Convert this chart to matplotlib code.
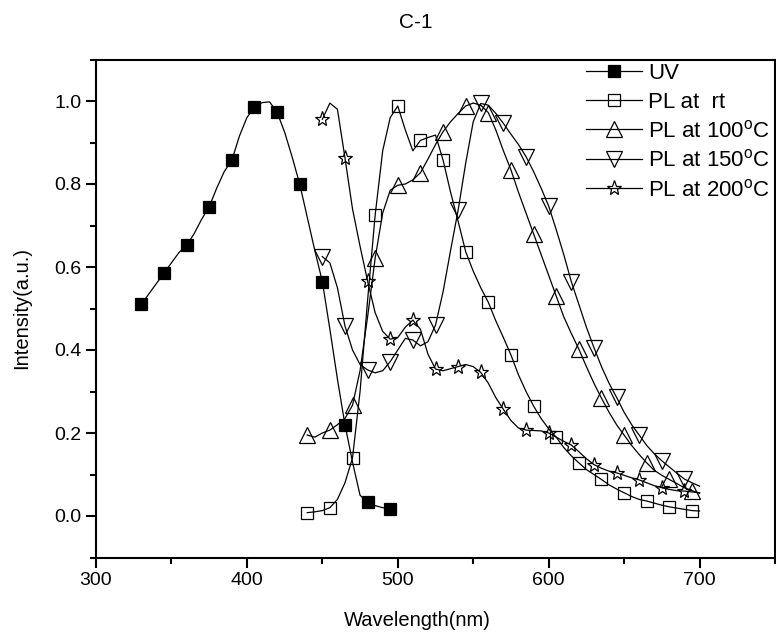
import matplotlib
matplotlib.use("Agg")
import matplotlib.pyplot as plt
from matplotlib.ticker import MultipleLocator

plt.rcParams['font.family'] = ['Liberation Sans', 'DejaVu Sans']
plt.rcParams['mathtext.fontset'] = 'custom'
plt.rcParams['mathtext.rm'] = 'Liberation Sans'

# ---- data ----
uv_x = list(range(330, 500, 5))
uv_y = [0.51, 0.535, 0.56, 0.585, 0.61, 0.635, 0.652, 0.68, 0.715, 0.745, 0.79, 0.83,
        0.857, 0.915, 0.96, 0.985, 0.996, 0.998, 0.973, 0.925, 0.865, 0.80, 0.72, 0.64,
        0.565, 0.45, 0.33, 0.22, 0.13, 0.05, 0.033, 0.025, 0.02, 0.017]

rt_x = list(range(440, 705, 5))
rt_y = [0.008, 0.01, 0.013, 0.02, 0.04, 0.08, 0.14, 0.30, 0.52, 0.725, 0.88, 0.96,
        0.988, 0.93, 0.88, 0.905, 0.912, 0.918, 0.858, 0.78, 0.71, 0.637, 0.59, 0.55,
        0.515, 0.47, 0.43, 0.388, 0.34, 0.30, 0.265, 0.235, 0.21, 0.19, 0.165, 0.145,
        0.128, 0.112, 0.10, 0.088, 0.075, 0.065, 0.056, 0.047, 0.04, 0.036, 0.031,
        0.026, 0.022, 0.019, 0.016, 0.013, 0.012]

t100_x = list(range(440, 705, 5))
t100_y = [0.195, 0.19, 0.2, 0.207, 0.22, 0.235, 0.267, 0.35, 0.48, 0.621, 0.73, 0.785,
          0.797, 0.80, 0.81, 0.827, 0.86, 0.895, 0.926, 0.95, 0.97, 0.988, 0.995, 0.99,
          0.972, 0.93, 0.88, 0.834, 0.78, 0.73, 0.68, 0.63, 0.58, 0.53, 0.48, 0.44,
          0.402, 0.36, 0.32, 0.284, 0.25, 0.22, 0.195, 0.17, 0.148, 0.128, 0.11, 0.098,
          0.088, 0.078, 0.068, 0.061, 0.055]

t150_x = list(range(450, 705, 5))
t150_y = [0.625, 0.61, 0.55, 0.458, 0.40, 0.365, 0.352, 0.345, 0.35, 0.372, 0.40, 0.428,
          0.424, 0.41, 0.42, 0.46, 0.54, 0.64, 0.737, 0.85, 0.95, 0.994, 0.99, 0.97,
          0.946, 0.92, 0.895, 0.866, 0.83, 0.79, 0.747, 0.69, 0.63, 0.565, 0.51, 0.455,
          0.406, 0.36, 0.32, 0.286, 0.25, 0.22, 0.195, 0.17, 0.15, 0.133, 0.118, 0.103,
          0.089, 0.08, 0.072]

t200_x = list(range(450, 705, 5))
t200_y = [0.956, 0.995, 0.98, 0.863, 0.74, 0.65, 0.566, 0.49, 0.445, 0.426, 0.43, 0.455,
          0.472, 0.45, 0.39, 0.354, 0.35, 0.355, 0.36, 0.365, 0.36, 0.346, 0.32, 0.285,
          0.257, 0.23, 0.212, 0.207, 0.206, 0.205, 0.2, 0.19, 0.18, 0.171, 0.155, 0.138,
          0.124, 0.115, 0.108, 0.104, 0.098, 0.092, 0.087, 0.08, 0.073, 0.068, 0.064,
          0.061, 0.06, 0.058, 0.056]

labels = ['UV', 'PL at  rt', 'PL at 100$^{\\rm o}$C', 'PL at 150$^{\\rm o}$C',
          'PL at 200$^{\\rm o}$C']
title = 'C-1'
xlabel = 'Wavelength(nm)'
ylabel = 'Intensity(a.u.)'

# ---- figure ----
fig = plt.figure(figsize=(7.76, 6.42), dpi=100)
ax = fig.add_axes([96/776, 84.5/642, 679/776, 498/642])

lw = 0.9
common = dict(color='black', lw=lw, markevery=3, mec='black', mew=0.9)
ax.plot(uv_x, uv_y, marker='s', ms=8, mfc='black', label=labels[0], **common)
ax.plot(rt_x, rt_y, marker='s', ms=8, mfc='none', label=labels[1], **common)
ax.plot(t100_x, t100_y, marker='^', ms=11, mfc='none', label=labels[2], **common)
ax.plot(t150_x, t150_y, marker='v', ms=11, mfc='none', label=labels[3], **common)
ax.plot(t200_x, t200_y, marker='*', ms=11, mfc='none', label=labels[4], **common)

ax.set_xlim(300, 750)
ax.set_ylim(-0.1, 1.1)
ax.xaxis.set_minor_locator(MultipleLocator(50))
ax.yaxis.set_minor_locator(MultipleLocator(0.1))
ax.set_xticks([300, 400, 500, 600, 700])
ax.set_yticks([0.0, 0.2, 0.4, 0.6, 0.8, 1.0])
ax.set_yticklabels(['0.0', '0.2', '0.4', '0.6', '0.8', '1.0'])

for s in ax.spines.values():
    s.set_linewidth(1.5)
ax.tick_params(which='both', direction='out', top=False, right=False, width=1.5,
               labelsize=14)
ax.tick_params(which='major', length=7)
ax.tick_params(which='minor', length=4)

fig.text(416/776, 1 - 22/642, title, ha='center', va='center', fontsize=15)
fig.text(417/776, 1 - 620/642, xlabel, ha='center', va='center', fontsize=14.5)
fig.text(22/776, 1 - 308/642, ylabel, ha='center', va='center', rotation=90,
         fontsize=14.5)

leg = ax.legend(loc='upper left', bbox_to_anchor=(586/776, 1 - 63/642),
                bbox_transform=fig.transFigure, frameon=False, fontsize=16,
                handlelength=2.5, handletextpad=0.3, labelspacing=0.34,
                borderaxespad=0, borderpad=0)

fig.savefig('out.png', dpi=100)
